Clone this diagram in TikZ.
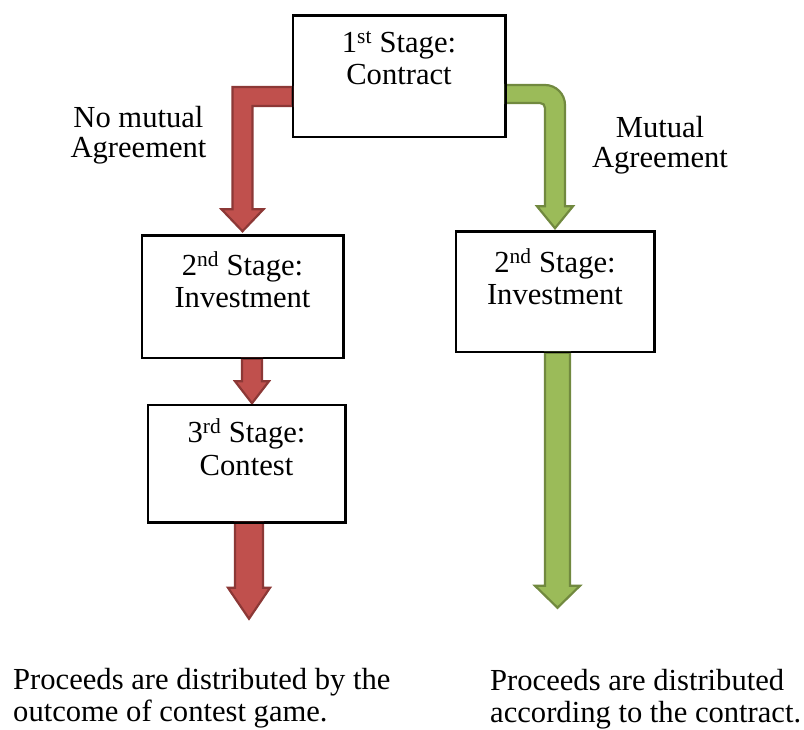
\documentclass[tikz,border=0pt]{standalone}
\usepackage{fontspec}
\setmainfont{Liberation Serif}
\newfontfamily\diagserif{Liberation Serif}
\usetikzlibrary{calc}
\definecolor{redfill}{HTML}{C0504D}
\definecolor{redline}{HTML}{8C3836}
\definecolor{greenfill}{HTML}{9BBB59}
\definecolor{greenline}{HTML}{71893F}
\tikzset{
  stagebox/.style={draw=black, line width=1.5pt, fill=white, inner sep=0pt},
  stagetext/.style={font=\diagserif\fontsize{30.6}{32.5}\selectfont, align=center, anchor=base, inner sep=0pt},
  lbltext/.style={font=\diagserif\fontsize{30.6}{30.5}\selectfont, align=center, anchor=base, inner sep=0pt},
  outtext/.style={font=\diagserif\fontsize{30.6}{32}\selectfont, align=left, anchor=base west, inner sep=0pt},
  redarrow/.style={fill=redfill, draw=redline, line width=2.2pt, line join=miter},
  greenarrow/.style={fill=greenfill, draw=greenline, line width=2.2pt, line join=miter}
}
\begin{document}
\begin{tikzpicture}[x=1pt,y=-1pt]
\useasboundingbox (0,0) rectangle (804,730);
% boxes
\node[stagebox, minimum width=212pt, minimum height=121pt] (b1) at (399,76.5) {};
\node[stagebox, minimum width=201pt, minimum height=122pt] (b2l) at (242.5,297) {};
\node[stagebox, minimum width=198pt, minimum height=120pt] (b2r) at (555,292) {};
\node[stagebox, minimum width=197pt, minimum height=117pt] (b3) at (246.5,463.5) {};
% box texts (anchor = baseline of last line)
\node[stagetext] (t1) at (399,85) {1\textsuperscript{st} Stage:\\Contract};
\node[stagetext] (t2l) at (242.5,308) {2\textsuperscript{nd} Stage:\\Investment};
\node[stagetext] (t2r) at (555,305) {2\textsuperscript{nd} Stage:\\Investment};
\node[stagetext] (t3) at (246.5,475) {3\textsuperscript{rd} Stage:\\Contest};
% labels
\node[lbltext] (lno) at (138.5,158) {No mutual\\Agreement};
\node[lbltext] (lyes) at (660,168) {Mutual\\Agreement};
% outcome texts
\node[outtext] (oleft) at (13,721) {Proceeds are distributed by the\\outcome of contest game.};
\node[outtext] (oright) at (490,722) {Proceeds are distributed\\according to the contract.};
% connector end points
\coordinate (rAs) at ([yshift=-20pt]b1.west);
\coordinate (rAt) at ([yshift=4pt]b2l.north);
\coordinate (gAs) at ([yshift=-17.5pt]b1.east);
\coordinate (gAt) at ([yshift=3pt]b2r.north);
\coordinate (rBs) at (b2l.south);
\coordinate (rBt) at ([xshift=5.5pt,yshift=1pt]b3.north);
\coordinate (rCs) at (b3.south);
\coordinate (rCt) at ([xshift=2.5pt,yshift=-96pt]b3.south);
\coordinate (gBs) at (b2r.south);
\coordinate (gBt) at ([xshift=2.5pt,yshift=-255pt]b2r.south);
% red bent arrow: stage 1 -> stage 2 (left)
\filldraw[redarrow] let \p1=(rAs), \p2=(rAt) in
  (\x1,\y1+9.5pt) -- (\x2-10pt,\y1+9.5pt) -- (\x2-10pt,\y2+22pt) -- (\x2-21pt,\y2+22pt)
  -- (\x2,\y2) -- (\x2+21pt,\y2+22pt) -- (\x2+10pt,\y2+22pt) -- (\x2+10pt,\y1-9.5pt)
  -- (\x1,\y1-9.5pt) -- cycle;
% green bent arrow: stage 1 -> stage 2 (right)
\filldraw[greenarrow] let \p1=(gAs), \p2=(gAt) in
  (\x1,\y1+9pt) -- (\x2-10pt,\y1+9pt)
  .. controls (\x2+1pt,\y1+9pt) and (\x2+10pt,\y1+0pt) .. (\x2+10pt,\y1-11pt)
  -- (\x2+10pt,\y2+22pt) -- (\x2+18pt,\y2+22pt) -- (\x2,\y2) -- (\x2-18pt,\y2+22pt)
  -- (\x2-10pt,\y2+22pt) -- (\x2-10pt,\y1-14pt)
  .. controls (\x2-10pt,\y1-11pt) and (\x2-12pt,\y1-9pt) .. (\x2-15pt,\y1-9pt)
  -- (\x1,\y1-9pt) -- cycle;
% red arrow: stage 2 -> stage 3
\filldraw[redarrow] let \p1=(rBs), \p2=(rBt) in
  (\x2-10pt,\y1) -- (\x2-10pt,\y2+22pt) -- (\x2-17pt,\y2+22pt) -- (\x2,\y2)
  -- (\x2+17pt,\y2+22pt) -- (\x2+10pt,\y2+22pt) -- (\x2+10pt,\y1) -- cycle;
% red arrow: stage 3 -> outcome
\filldraw[redarrow] let \p1=(rCs), \p2=(rCt) in
  (\x2-14pt,\y1) -- (\x2-14pt,\y2+31pt) -- (\x2-21pt,\y2+31pt) -- (\x2,\y2)
  -- (\x2+21pt,\y2+31pt) -- (\x2+14pt,\y2+31pt) -- (\x2+14pt,\y1) -- cycle;
% green arrow: stage 2 -> outcome
\filldraw[greenarrow] let \p1=(gBs), \p2=(gBt) in
  (\x2-12.5pt,\y1) -- (\x2-12.5pt,\y2+22pt) -- (\x2-22.5pt,\y2+22pt) -- (\x2,\y2)
  -- (\x2+22.5pt,\y2+22pt) -- (\x2+12.5pt,\y2+22pt) -- (\x2+12.5pt,\y1) -- cycle;
% redraw box borders on top
\draw[line width=1.5pt] (b1.north west) rectangle (b1.south east);
\draw[line width=1.5pt] (b2l.north west) rectangle (b2l.south east);
\draw[line width=1.5pt] (b2r.north west) rectangle (b2r.south east);
\draw[line width=1.5pt] (b3.north west) rectangle (b3.south east);
\end{tikzpicture}
\end{document}
